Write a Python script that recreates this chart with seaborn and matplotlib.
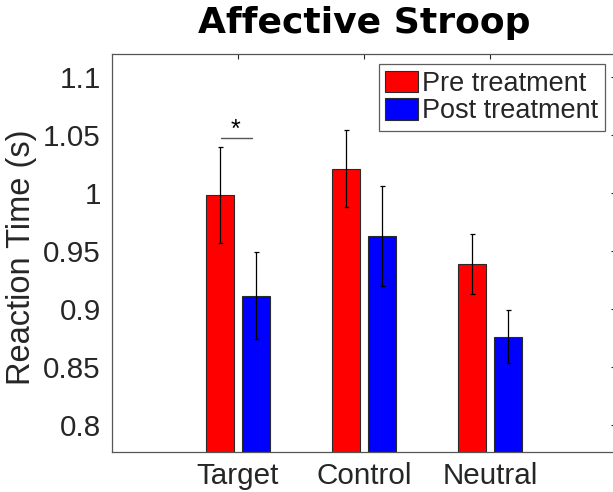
import numpy as np
import pandas as pd
import matplotlib
matplotlib.use("Agg")
import matplotlib.pyplot as plt
import seaborn as sns

# ---- data ----
categories = ["Target", "Control", "Neutral"]
conditions = ["Pre treatment", "Post treatment"]
pre_means = [0.998, 1.021, 0.9385]
post_means = [0.9115, 0.963, 0.876]
pre_err = [0.0413, 0.0335, 0.0259]
post_err = [0.0374, 0.043, 0.0227]
yticks = [0.8, 0.85, 0.9, 0.95, 1.0, 1.05, 1.1]
ytick_labels = ["0.8", "0.85", "0.9", "0.95", "1", "1.05", "1.1"]
sig_y = 1.047
sig_star_y = 1.0545

df = pd.DataFrame({
    "category": categories * 2,
    "condition": [conditions[0]] * 3 + [conditions[1]] * 3,
    "rt": pre_means + post_means,
})

sns.set_theme(style="white")
plt.rcParams["font.family"] = ["Liberation Sans", "DejaVu Sans"]

fig = plt.figure(figsize=(6.13, 4.92), dpi=100)
ax = fig.add_axes([0.1827, 0.0813, 0.8222, 0.8089])

sns.barplot(data=df, x="category", y="rt", hue="condition",
            order=categories, hue_order=conditions,
            palette=["#ff0000", "#0000ff"], width=0.571, gap=0.2,
            errorbar=None, edgecolor="#2a2a2a", linewidth=0.8,
            saturation=1, ax=ax)

errs = [pre_err, post_err]
means = [pre_means, post_means]
bar_containers = list(ax.containers)[:2]
centers = []
for i, cont in enumerate(bar_containers):
    xs = [p.get_x() + p.get_width() / 2 for p in cont]
    centers.append(xs)
for i, xs in enumerate(centers):
    ax.errorbar(xs, means[i], yerr=errs[i], fmt="none", ecolor="black",
                elinewidth=0.9, capsize=1.8, capthick=0.9, zorder=5)

# significance marker
ax.plot([centers[0][0] + 0.008, centers[1][0] - 0.032], [sig_y, sig_y],
        color="#555555", lw=1.0)
ax.text((centers[0][0] + centers[1][0]) / 2 - 0.02, sig_star_y, "*",
        ha="center", va="center", fontsize=18, color="black")

ax.set_xlim(-1, 3)
ax.set_ylim(0.7767, 1.1198)
ax.set_yticks(yticks)
ax.set_yticklabels(ytick_labels)
ax.set_xlabel("")
ax.set_ylabel("Reaction Time (s)", fontsize=23.5, color="#262626")
ax.yaxis.set_label_coords(-0.148, 0.49)

ax.tick_params(axis="both", which="both", direction="in", length=3.6,
               width=0.8, colors="#262626", labelsize=21.3,
               top=True, right=True, labelcolor="#262626")
ax.tick_params(axis="x", pad=7.0)
ax.tick_params(axis="y", pad=8.0)
for s in ax.spines.values():
    s.set_color("#555555")
    s.set_linewidth(0.9)
    s.set_visible(True)

ax.set_title("Affective Stroop", fontsize=26, fontweight="bold",
             family="DejaVu Sans", pad=15, color="black")

leg = ax.legend(loc="upper right", bbox_to_anchor=(0.978, 0.975),
                borderaxespad=0, fontsize=19.5, frameon=True,
                fancybox=False, handlelength=1.2, handleheight=0.85,
                handletextpad=0.15, borderpad=0.25, labelspacing=0.05)
leg.get_frame().set_edgecolor("#333333")
leg.get_frame().set_linewidth(0.9)
for h in leg.legend_handles:
    h.set_edgecolor("#2a2a2a")

fig.savefig("out.png", dpi=100)
